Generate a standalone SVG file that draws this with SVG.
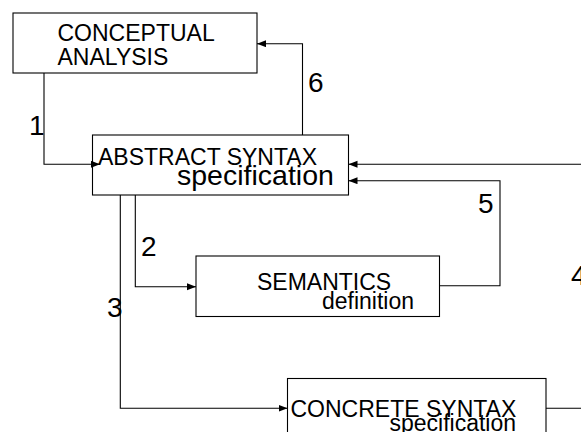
<svg xmlns="http://www.w3.org/2000/svg" width="581" height="432" viewBox="0 0 581 432">
<style>
.box{fill:#fff;stroke:#000;stroke-width:1.1}
.t{font-family:"Liberation Sans",Arial,sans-serif;font-size:23px;fill:#000}
.big{font-size:28.5px}
.lbl{font-family:"Liberation Sans",Arial,sans-serif;font-size:28px;fill:#000}
.c{fill:none;stroke:#000;stroke-width:1.1}
</style>
<defs>
<marker id="ah" markerUnits="userSpaceOnUse" markerWidth="10" markerHeight="8" refX="9" refY="3.5" orient="auto">
<path d="M0,0 L9,3.5 L0,7 z" fill="#000"/>
</marker>
</defs>
<g id="n-conceptual">
<rect class="box" x="13" y="13" width="244" height="60"/>
<text class="t" x="57.5" y="41">CONCEPTUAL</text>
<text class="t" x="57.5" y="64.5">ANALYSIS</text>
</g>
<g id="n-abstract">
<rect class="box" x="92.5" y="135" width="256" height="60"/>
<text class="t" x="98" y="165">ABSTRACT SYNTAX</text>
<text class="t big" x="177" y="184.5">specification</text>
</g>
<g id="n-semantics">
<rect class="box" x="196" y="256" width="243.5" height="60.5"/>
<text class="t" x="257" y="290">SEMANTICS</text>
<text class="t" x="322" y="308.5">definition</text>
</g>
<g id="n-concrete">
<rect class="box" x="287.5" y="378.5" width="258.5" height="70"/>
<text class="t" x="290.5" y="416.7">CONCRETE SYNTAX</text>
<text class="t" x="389.5" y="431">specification</text>
</g>
<g id="connectors">
<path class="c" d="M44,73 V164.3 H100" marker-end="url(#ah)"/>
<path class="c" d="M302.5,135 V43.7 H257" marker-end="url(#ah)"/>
<path class="c" d="M135.3,195 V286.7 H196" marker-end="url(#ah)"/>
<path class="c" d="M120.3,195 V408.3 H287.5" marker-end="url(#ah)"/>
<path class="c" d="M439.5,285.7 H500 V180.7 H348.5" marker-end="url(#ah)"/>
<path class="c" d="M546,408.3 H600 V164.3 H348.5" marker-end="url(#ah)"/>
<text class="lbl" x="29" y="135">1</text>
<text class="lbl" x="141" y="256">2</text>
<text class="lbl" x="107" y="316.7">3</text>
<text class="lbl" x="571" y="285">4</text>
<text class="lbl" x="478" y="213">5</text>
<text class="lbl" x="308" y="91.7">6</text>
</g>
</svg>
